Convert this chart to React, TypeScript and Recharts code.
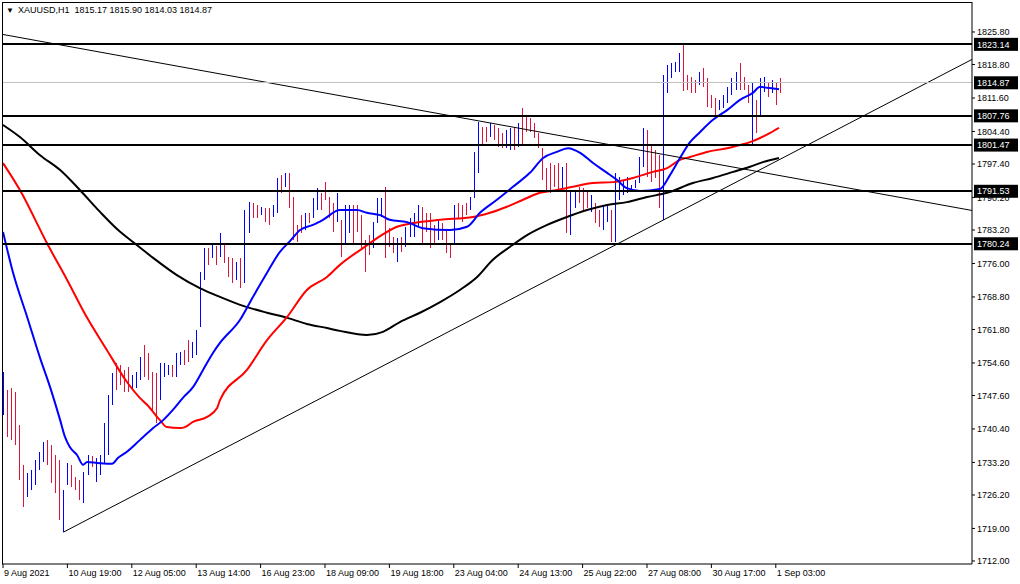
import { ComposedChart, Bar, Line, XAxis, YAxis, ReferenceLine } from "recharts";

// XAUUSD H1, one stick per two hourly bars (slot index on the x axis)
const barHigh = [
  1752.7, 1748.8, 1749.2, 1748.4, 1741.3, 1732.7, 1730.9, 1731.6, 1733.7, 1735.5,
  1737.6, 1738.0, 1737.0, 1734.8, 1733.7, 1727.3, 1733.1, 1732.7, 1730.1, 1729.4,
  1731.2, 1734.8, 1734.6, 1734.2, 1734.8, 1741.7, 1747.7, 1752.5, 1754.6, 1754.2,
  1753.1, 1753.7, 1752.0, 1752.7, 1755.9, 1758.5, 1756.8, 1752.7, 1752.5, 1754.6,
  1754.6, 1754.2, 1754.2, 1756.8, 1757.0, 1757.4, 1759.6, 1759.1, 1761.7, 1774.2,
  1779.3, 1779.3, 1780.0, 1779.8, 1782.6, 1780.0, 1777.4, 1777.2, 1776.3, 1777.2,
  1787.5, 1789.2, 1789.0, 1788.6, 1788.2, 1787.9, 1787.9, 1788.6, 1794.4, 1795.0,
  1795.5, 1795.5, 1790.3, 1784.3, 1786.4, 1786.9, 1786.9, 1790.1, 1792.2, 1791.2,
  1793.5, 1790.3, 1789.0, 1791.2, 1785.4, 1788.6, 1788.6, 1788.6, 1788.6, 1786.4,
  1781.1, 1782.1, 1784.9, 1790.1, 1790.1, 1792.5, 1783.6, 1781.7, 1781.5, 1781.7,
  1783.9, 1785.8, 1786.9, 1788.6, 1788.2, 1786.9, 1786.9, 1784.3, 1785.4, 1784.7,
  1783.2, 1780.0, 1788.6, 1789.0, 1788.6, 1789.0, 1790.3, 1800.0, 1806.4, 1805.4,
  1805.4, 1806.2, 1805.8, 1805.2, 1804.1, 1804.7, 1805.2, 1805.4, 1806.2, 1809.4,
  1807.5, 1807.3, 1806.2, 1804.1, 1800.8, 1796.5, 1797.6, 1797.2, 1797.6, 1796.8,
  1797.6, 1791.8, 1791.8, 1792.5, 1792.2, 1791.8, 1790.7, 1789.0, 1787.5, 1788.6,
  1788.6, 1787.5, 1795.5, 1794.6, 1794.0, 1794.6, 1792.9, 1794.0, 1798.9, 1805.2,
  1804.7, 1801.5, 1800.4, 1799.3, 1816.5, 1818.7, 1819.1, 1819.3, 1821.3, 1823.1,
  1816.5, 1816.1, 1815.5, 1817.2, 1818.1, 1815.9, 1812.3, 1811.6, 1811.2, 1812.3,
  1814.0, 1815.9, 1817.2, 1819.1, 1816.1, 1814.4, 1815.0, 1811.2, 1815.9, 1816.1,
  1814.8, 1815.5, 1814.8, 1815.9,
];
const barLow = [
  1743.4, 1738.7, 1738.0, 1737.0, 1729.4, 1723.6, 1725.8, 1727.3, 1728.4, 1731.6,
  1733.3, 1732.7, 1728.8, 1726.6, 1720.8, 1718.3, 1728.4, 1727.9, 1727.3, 1725.1,
  1724.5, 1730.5, 1732.2, 1729.0, 1730.5, 1733.1, 1734.8, 1745.6, 1748.8, 1749.9,
  1748.4, 1748.4, 1748.8, 1749.2, 1750.9, 1751.6, 1750.9, 1744.5, 1741.7, 1746.6,
  1751.6, 1752.0, 1751.6, 1751.6, 1754.2, 1754.2, 1754.8, 1755.7, 1756.3, 1762.3,
  1772.5, 1775.7, 1777.2, 1775.7, 1777.4, 1776.1, 1773.1, 1771.8, 1772.5, 1770.7,
  1771.8, 1782.6, 1785.8, 1785.8, 1786.4, 1784.9, 1784.3, 1786.0, 1786.9, 1791.2,
  1792.5, 1787.9, 1781.1, 1780.6, 1782.6, 1783.2, 1784.7, 1785.8, 1787.5, 1787.5,
  1789.7, 1785.8, 1782.8, 1784.9, 1777.4, 1780.4, 1782.6, 1780.0, 1782.8, 1778.9,
  1774.2, 1777.8, 1779.3, 1784.7, 1786.0, 1777.2, 1779.6, 1778.3, 1776.3, 1778.5,
  1779.6, 1781.7, 1781.7, 1783.9, 1780.4, 1782.8, 1779.3, 1780.4, 1781.1, 1781.1,
  1778.3, 1777.2, 1780.0, 1785.8, 1784.9, 1786.4, 1787.5, 1790.1, 1795.5, 1801.5,
  1802.1, 1803.2, 1802.6, 1801.1, 1800.8, 1800.8, 1800.4, 1800.4, 1801.1, 1801.5,
  1804.3, 1804.3, 1803.0, 1800.8, 1794.0, 1791.8, 1791.2, 1792.5, 1791.8, 1792.2,
  1782.6, 1782.1, 1787.9, 1789.0, 1787.5, 1787.9, 1787.1, 1784.7, 1783.9, 1783.2,
  1784.9, 1780.6, 1780.6, 1789.7, 1790.7, 1791.2, 1791.4, 1792.2, 1793.3, 1796.8,
  1794.6, 1793.5, 1794.4, 1787.9, 1785.4, 1812.7, 1815.9, 1817.2, 1817.2, 1813.3,
  1813.3, 1812.7, 1812.7, 1814.4, 1814.0, 1809.7, 1809.4, 1807.9, 1809.0, 1809.4,
  1810.5, 1812.3, 1813.3, 1813.3, 1813.3, 1810.5, 1801.5, 1804.1, 1807.5, 1812.9,
  1811.8, 1812.7, 1810.1, 1812.7,
];
// 1 = bull bar (blue), 0 = bear bar (crimson)
const barUp = [
  1, 0, 0, 0, 0, 0, 1, 1, 1, 1, 1, 0, 0, 0, 0, 1, 1, 0, 0, 0,
  1, 1, 0, 1, 1, 1, 1, 1, 0, 0, 0, 0, 1, 1, 1, 0, 0, 0, 0, 1,
  1, 1, 0, 1, 1, 0, 0, 1, 1, 1, 1, 0, 1, 0, 1, 0, 0, 0, 1, 0,
  1, 1, 0, 0, 1, 0, 0, 1, 1, 0, 1, 0, 0, 0, 0, 1, 0, 1, 1, 0,
  0, 0, 0, 1, 0, 1, 1, 0, 0, 0, 0, 0, 1, 1, 1, 0, 0, 0, 1, 0,
  1, 1, 1, 1, 0, 0, 0, 0, 1, 0, 0, 0, 1, 0, 0, 0, 1, 1, 1, 0,
  0, 1, 0, 0, 0, 1, 1, 0, 1, 0, 0, 0, 0, 0, 0, 0, 0, 0, 0, 1,
  0, 1, 1, 0, 0, 0, 1, 0, 0, 1, 1, 0, 1, 1, 1, 1, 1, 1, 1, 1,
  0, 0, 0, 0, 1, 1, 1, 1, 1, 0, 0, 0, 0, 1, 0, 0, 0, 0, 1, 1,
  1, 1, 1, 0, 0, 0, 1, 0, 1, 1, 0, 1, 0, 0,
];

// moving averages, read at a few slots each
const maFastSlot = [0, 2.5, 6, 9.2, 11.7, 14.2, 15.4, 16.6, 18.4, 19.9, 20.9, 23.4, 27.1, 28.6, 30.8, 34, 37.3, 39.8, 42.2, 44.7, 47.2, 49.7, 52.2, 53.9, 58.9, 62.1, 65.6, 68.8, 71.3, 73.8, 77, 79.5, 83.7, 88, 90.4, 93.7, 96.1, 100.4, 104.3, 111.1, 115.3, 118.5, 122.7, 126.7, 130.9, 134.2, 137.6, 140.4, 143.4, 146.6, 150.1, 152.5, 155, 158.3, 163.2, 165.7, 168.2, 170.7, 173.2, 176.4, 179.9, 183.1, 186.3, 188.1, 189.8, 192.8];
const maFastPrice = [1782.8, 1774.0, 1764.5, 1755.7, 1749.4, 1742.3, 1738.7, 1736.5, 1734.8, 1732.7, 1733.3, 1733.1, 1732.9, 1734.2, 1735.5, 1738.0, 1740.6, 1742.3, 1744.5, 1747.1, 1749.4, 1753.1, 1756.8, 1758.9, 1763.9, 1768.8, 1774.0, 1778.5, 1780.8, 1783.2, 1784.3, 1785.4, 1787.5, 1787.5, 1786.9, 1786.4, 1785.4, 1784.9, 1783.6, 1783.2, 1783.9, 1786.9, 1789.7, 1792.5, 1795.5, 1798.7, 1800.0, 1800.8, 1799.8, 1797.6, 1795.5, 1794.0, 1792.2, 1791.6, 1792.0, 1795.0, 1798.7, 1802.1, 1804.3, 1806.9, 1809.0, 1811.2, 1812.7, 1814.0, 1813.8, 1813.5];

const maMidSlot = [0, 4.2, 10.9, 15.9, 20.9, 25.8, 30.8, 34, 35.8, 39, 40.7, 44, 45.2, 47.2, 50.7, 53.2, 53.9, 60.6, 65.6, 70.6, 75.5, 80.5, 83.7, 89.4, 93.7, 97.9, 101.9, 108.6, 116.8, 121, 125.2, 129.2, 133.4, 137.6, 141.6, 146.6, 151.6, 156.5, 161.5, 165, 168.2, 170.7, 174.9, 179.9, 183.1, 185.6, 188.1, 190.6, 192.8];
const maMidPrice = [1797.6, 1791.8, 1780.4, 1772.5, 1764.3, 1757.4, 1750.5, 1747.1, 1745.6, 1742.3, 1740.8, 1740.6, 1740.8, 1741.9, 1743.0, 1744.9, 1746.6, 1753.1, 1759.5, 1764.5, 1770.3, 1773.1, 1775.7, 1779.3, 1781.9, 1783.9, 1784.7, 1785.4, 1786.0, 1786.9, 1788.2, 1789.7, 1791.2, 1791.8, 1792.5, 1793.3, 1793.5, 1794.4, 1795.7, 1796.5, 1798.3, 1798.9, 1800.0, 1800.8, 1801.5, 1802.1, 1803.0, 1804.1, 1805.2];

const maSlowSlot = [0, 4.2, 9.2, 14.2, 19.1, 24.1, 28.6, 32.3, 37.3, 43.2, 48.9, 53.9, 58.9, 65.6, 70.6, 75.5, 80.5, 83.7, 90.4, 94.4, 98.6, 103.6, 108.6, 113.5, 117.8, 121.7, 126, 130.2, 135.2, 140.1, 145.1, 150.1, 155, 160, 165, 171.4, 176.4, 181.4, 185.6, 188.8, 192.8];
const maSlowPrice = [1805.8, 1803.2, 1799.3, 1796.1, 1791.8, 1787.1, 1783.2, 1780.6, 1777.2, 1773.5, 1770.7, 1768.8, 1767.1, 1765.4, 1764.3, 1763.0, 1762.1, 1761.5, 1760.6, 1761.3, 1763.4, 1765.4, 1767.7, 1770.3, 1773.1, 1776.8, 1779.6, 1782.1, 1784.3, 1786.0, 1787.5, 1788.6, 1789.2, 1790.3, 1791.2, 1793.3, 1794.4, 1795.7, 1796.8, 1797.8, 1798.7];

// drawn objects
const levels = [1823.14, 1807.76, 1801.47, 1791.53, 1780.24];
const lastPrice = 1814.87;
const trendDown = [
  { x: -0.25, y: 1825.3 },
  { x: 240.75, y: 1787.4 },
];
const trendUp = [
  { x: 15, y: 1718.2 },
  { x: 240.75, y: 1819.9 },
];

const priceTicks = [1825.8, 1818.8, 1811.6, 1804.4, 1797.4, 1790.2, 1783.2, 1776.0, 1768.8, 1761.8, 1754.6, 1747.6, 1740.4, 1733.2, 1726.2, 1719.0, 1712.0];
const timeTicks = [0, 16, 32, 48, 64, 80, 96, 112, 128, 144, 160, 176, 192];
const timeLabels = ["9 Aug 2021", "10 Aug 19:00", "12 Aug 05:00", "13 Aug 14:00", "16 Aug 23:00", "18 Aug 09:00", "19 Aug 18:00", "23 Aug 04:00", "24 Aug 13:00", "25 Aug 22:00", "27 Aug 08:00", "30 Aug 17:00", "1 Sep 03:00"];

const UP = "#0000ff";
const DOWN = "#dc143c";
const FONT = "'Liberation Sans', Arial, sans-serif";

const bars = barHigh.map((h, i) => ({ x: i, range: [barLow[i], h], up: barUp[i] }));
const toPoints = (xs: number[], vs: number[]) => xs.map((x, i) => ({ x, v: vs[i] }));

function Stick(props: any) {
  const { x, y, width, height, payload } = props;
  const top = Math.min(y, y + height);
  return (
    <rect
      x={Math.round(x + width / 2)}
      y={Math.round(top)}
      width={1}
      height={Math.max(Math.round(Math.abs(height)), 1)}
      fill={payload.up ? UP : DOWN}
      shapeRendering="crispEdges"
    />
  );
}

function TimeTick({ x, y, payload }: any) {
  const idx = timeTicks.indexOf(payload.value);
  return (
    <text x={x + 1} y={y} dy="0.71em" fontSize={9} fontFamily={FONT} fill="#000">
      {timeLabels[idx]}
    </text>
  );
}

function priceTag(text: string) {
  return (props: any) => {
    const y = props.viewBox.y;
    return (
      <g>
        <rect x={974} y={y - 6.5} width={44} height={13} fill="#000" />
        <text x={977} y={y} dy="0.355em" fontSize={9} fontFamily={FONT} fill="#fff">
          {text}
        </text>
      </g>
    );
  };
}

export default function App() {
  return (
    <div style={{ position: "absolute", left: 0, top: 0, width: 1020, height: 584, background: "#fff" }}>
      <ComposedChart width={1020} height={584} data={bars} margin={{ top: 2, right: 0, bottom: 0, left: 2 }}>
        <XAxis
          type="number"
          dataKey="x"
          domain={[-0.25, 240.75]}
          allowDataOverflow
          ticks={timeTicks}
          interval={0}
          tick={<TimeTick />}
          tickSize={4}
          height={20}
          stroke="#000"
        />
        <YAxis
          orientation="right"
          type="number"
          domain={[1711.35, 1832.25]}
          allowDataOverflow
          ticks={priceTicks}
          interval={0}
          width={48}
          tickSize={3}
          stroke="#000"
          tick={{ fill: "#000", fontSize: 9, fontFamily: FONT }}
          tickFormatter={(v: number) => v.toFixed(2)}
        />
        <Bar dataKey="range" barSize={1} shape={<Stick />} isAnimationActive={false} />
        <Line data={toPoints(maSlowSlot, maSlowPrice)} dataKey="v" type="monotone" stroke="#000" strokeWidth={2} dot={false} isAnimationActive={false} />
        <Line data={toPoints(maMidSlot, maMidPrice)} dataKey="v" type="monotone" stroke="#ff0000" strokeWidth={2} dot={false} isAnimationActive={false} />
        <Line data={toPoints(maFastSlot, maFastPrice)} dataKey="v" type="monotone" stroke="#0000ff" strokeWidth={2} dot={false} isAnimationActive={false} />
        <ReferenceLine segment={trendDown} stroke="#000" strokeWidth={1} />
        <ReferenceLine segment={trendUp} stroke="#000" strokeWidth={1} />
        <ReferenceLine y={lastPrice} stroke="#c0c0c0" strokeWidth={1} shapeRendering="crispEdges" label={priceTag(lastPrice.toFixed(2))} />
        {levels.map((lv) => (
          <ReferenceLine key={lv} y={lv} stroke="#000" strokeWidth={2} shapeRendering="crispEdges" label={priceTag(lv.toFixed(2))} />
        ))}
      </ComposedChart>
      <div
        style={{
          position: "absolute",
          left: 2,
          top: 2,
          width: 970,
          height: 562,
          borderLeft: "1px solid #000",
          borderTop: "1px solid #000",
          boxSizing: "border-box",
          pointerEvents: "none",
        }}
      />
      <div style={{ position: "absolute", left: 6, top: 5, fontFamily: FONT, fontSize: 9, color: "#000", whiteSpace: "pre" }}>
        <span style={{ fontSize: 8, marginRight: 4 }}>▼</span>
        {"XAUUSD,H1  1815.17 1815.90 1814.03 1814.87"}
      </div>
    </div>
  );
}
